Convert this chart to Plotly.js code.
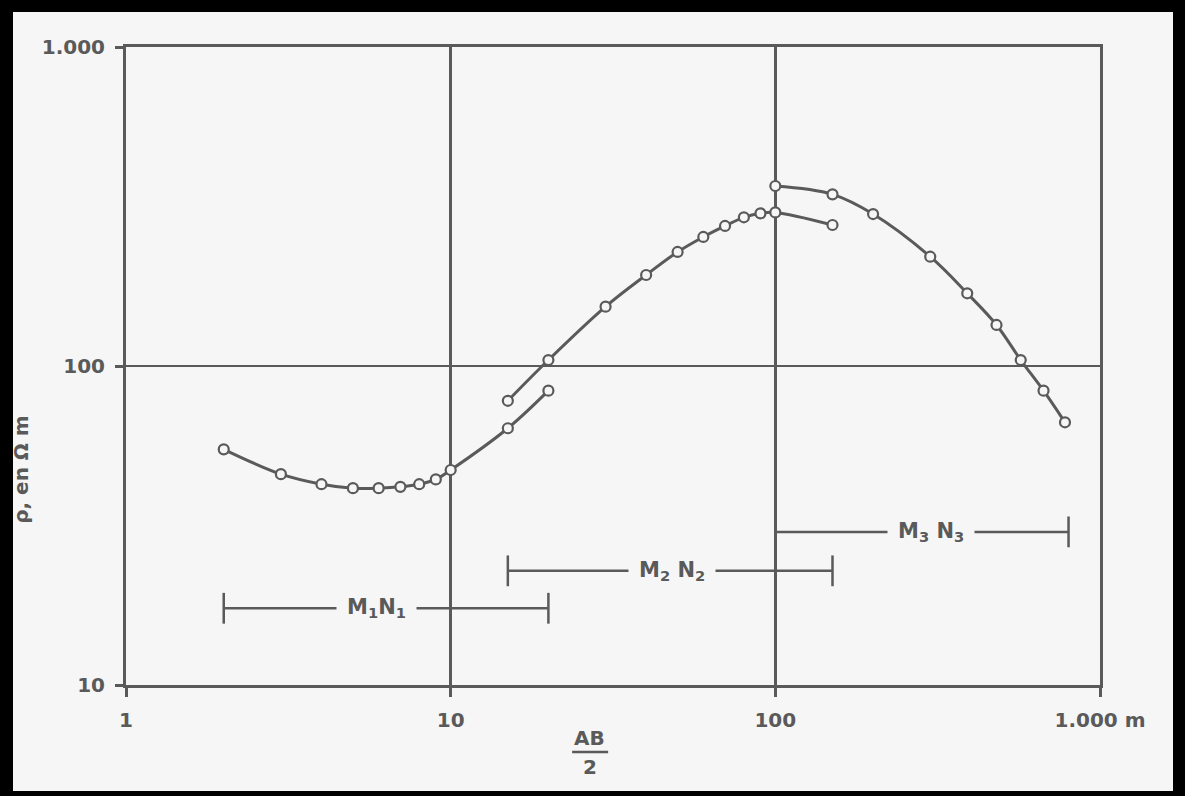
<!DOCTYPE html>
<html>
<head>
<meta charset="utf-8">
<script src="https://cdn.plot.ly/plotly-3.0.1.min.js"></script>
<style>
  html, body { margin: 0; padding: 0; background: #f6f6f6; }
  #wrap { position: relative; width: 1185px; height: 796px; }
  #chart { position: absolute; left: 0; top: 0; width: 1185px; height: 796px; }
  #frame { position: absolute; left: 0; top: 0; width: 1185px; height: 796px; box-sizing: border-box;
           border-style: solid; border-color: #000; border-width: 12px 12px 5px 13px; pointer-events: none; }
</style>
</head>
<body>
<div id="wrap"><div id="chart"></div><div id="frame"></div></div>
<script>
// Axis ticks
const xTickVals = [1, 10, 100, 1000];
const xTickText = ['1', '10', '100', '1.000 m'];
const yTickVals = [10, 100, 1000];
const yTickText = ['10', '100', '1.000'];

// Sounding curve segments (AB/2 in m, apparent resistivity in ohm·m)
const curve1X = [2, 3, 4, 5, 6, 7, 8, 9, 10, 15, 20];
const curve1Y = [54.8, 45.8, 42.6, 41.4, 41.4, 41.8, 42.6, 44.1, 47.2, 63.8, 83.7];
const curve2X = [15, 20, 30, 40, 50, 60, 70, 80, 90, 100, 150];
const curve2Y = [77.8, 104.4, 153.5, 192.9, 227.8, 253.8, 274.8, 292.5, 301, 303, 276.7];
const curve3X = [100, 150, 200, 300, 390, 480, 570, 670, 780];
const curve3Y = [366.6, 345.3, 299.5, 220.1, 169, 134.5, 104.4, 83.7, 66.6];

// MN electrode ranges
const barStart = [2, 15, 100];
const barEnd = [20, 150, 800];
const barLevel = [17.4, 22.8, 30.2];
const barLabelX = [5.9, 48, 302];
const barLabels = ['M<sub>1</sub>N<sub>1</sub>', 'M<sub>2</sub> N<sub>2</sub>', 'M<sub>3</sub> N<sub>3</sub>'];

const INK = '#5a5a5a';
const BG = '#f6f6f6';
const FONT = 'DejaVu Sans';

const traces = [];
[[curve1X, curve1Y], [curve2X, curve2Y], [curve3X, curve3Y]].forEach(([xs, ys]) => {
  traces.push({
    x: xs, y: ys, type: 'scatter', mode: 'lines+markers',
    line: { color: INK, width: 3, shape: 'spline', smoothing: 1 },
    marker: { symbol: 'circle', size: 10, color: BG, line: { color: INK, width: 2.2 } },
    hoverinfo: 'skip', showlegend: false
  });
});
for (let i = 0; i < barStart.length; i++) {
  traces.push({
    x: [barStart[i], barEnd[i]], y: [barLevel[i], barLevel[i]], type: 'scatter', mode: 'lines+markers',
    line: { color: INK, width: 2.5 },
    marker: { symbol: 'line-ns', size: 22, color: INK, line: { color: INK, width: 2.5 } },
    hoverinfo: 'skip', showlegend: false
  });
}

const annotations = barLabels.map((t, i) => ({
  x: Math.log10(barLabelX[i]), y: Math.log10(barLevel[i]), xref: 'x', yref: 'y',
  xanchor: 'center', yanchor: 'middle',
  text: '<b>' + t + '</b>', showarrow: false, bgcolor: BG, borderpad: 10,
  font: { family: FONT, size: 21, color: INK }
}));
annotations.push({
  xref: 'paper', yref: 'paper', x: -0.108, y: 0.337, xanchor: 'center', yanchor: 'middle', textangle: -90,
  text: '<b>ρ, en Ω m</b>', showarrow: false, font: { family: FONT, size: 20, color: INK }
});
annotations.push({
  xref: 'paper', yref: 'paper', x: 0.476, y: -0.083, xanchor: 'center', yanchor: 'middle',
  text: '<b>AB</b>', showarrow: false, font: { family: FONT, size: 20, color: INK }
});
annotations.push({
  xref: 'paper', yref: 'paper', x: 0.476, y: -0.129, xanchor: 'center', yanchor: 'middle',
  text: '<b>2</b>', showarrow: false, font: { family: FONT, size: 20, color: INK }
});

const layout = {
  width: 1185, height: 796,
  margin: { l: 126, r: 85, t: 47, b: 111 },
  paper_bgcolor: BG, plot_bgcolor: BG,
  showlegend: false,
  xaxis: {
    type: 'log', range: [0, 3], tickmode: 'array', tickvals: xTickVals, ticktext: xTickText,
    showline: true, mirror: true, linecolor: INK, linewidth: 3,
    ticks: 'outside', ticklen: 9, tickwidth: 3, tickcolor: INK, ticklabelstandoff: 6,
    showgrid: true, gridcolor: INK, gridwidth: 2.5, zeroline: false,
    tickfont: { family: FONT, size: 20, color: INK, weight: 'bold' }
  },
  yaxis: {
    type: 'log', range: [1, 3], tickmode: 'array', tickvals: yTickVals, ticktext: yTickText,
    showline: true, mirror: true, linecolor: INK, linewidth: 3,
    ticks: 'outside', ticklen: 8, tickwidth: 3, tickcolor: INK, ticklabelstandoff: 6,
    showgrid: true, gridcolor: INK, gridwidth: 2.5, zeroline: false,
    tickfont: { family: FONT, size: 20, color: INK, weight: 'bold' }
  },
  shapes: [{
    type: 'line', xref: 'paper', yref: 'paper', x0: 0.458, x1: 0.495, y0: -0.105, y1: -0.105,
    line: { color: INK, width: 2.5 }
  }],
  annotations: annotations
};

Plotly.newPlot('chart', traces, layout, { staticPlot: true, displayModeBar: false });
</script>
</body>
</html>
